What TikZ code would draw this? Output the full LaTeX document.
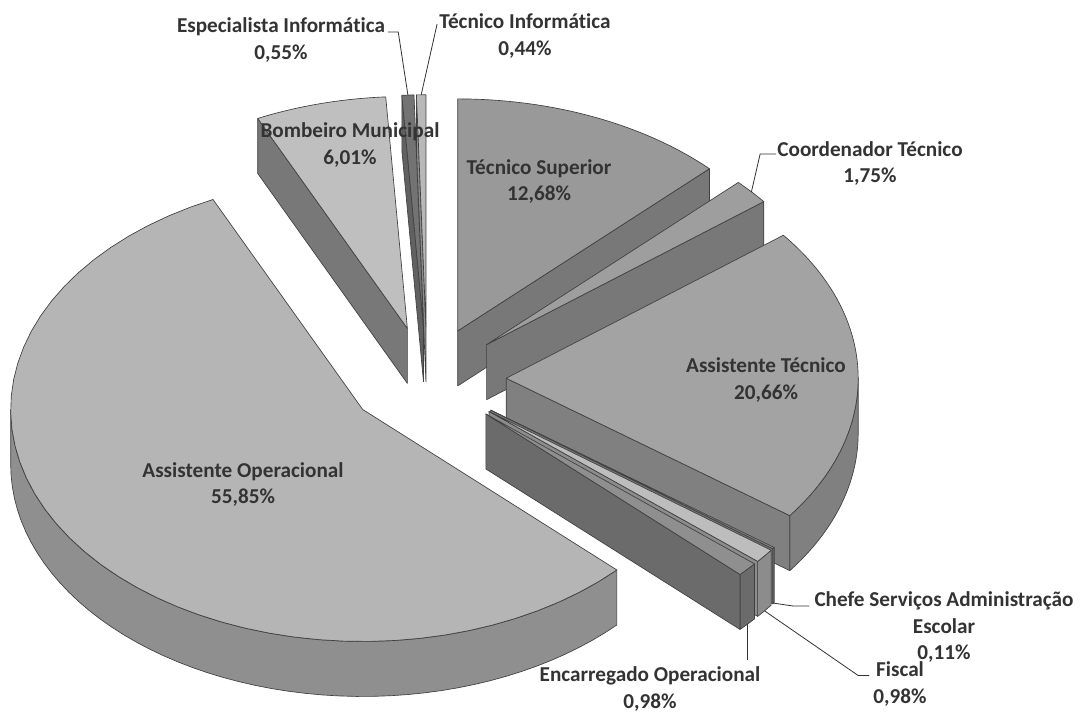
\documentclass[tikz,border=0pt]{standalone}
\usepackage{fontspec}
\setmainfont{Carlito}[Ligatures=NoCommon]
\usetikzlibrary{calc}

% tons de cinza: t = topo, l = lado
\definecolor{cTSt}{gray}{0.60}\definecolor{cTSl}{gray}{0.47}
\definecolor{cTIt}{gray}{0.72}\definecolor{cTIl}{gray}{0.55}
\definecolor{cEIt}{gray}{0.45}\definecolor{cEIl}{gray}{0.38}
\definecolor{cBMt}{gray}{0.75}\definecolor{cBMl}{gray}{0.47}
\definecolor{cCTt}{gray}{0.62}\definecolor{cCTl}{gray}{0.47}
\definecolor{cATt}{gray}{0.64}\definecolor{cATl}{gray}{0.50}
\definecolor{cCSt}{gray}{0.55}\definecolor{cCSl}{gray}{0.45}
\definecolor{cFIt}{gray}{0.74}\definecolor{cFIl}{gray}{0.55}
\definecolor{cEOt}{gray}{0.56}\definecolor{cEOl}{gray}{0.42}
\definecolor{cAOt}{gray}{0.71}\definecolor{cAOl}{gray}{0.56}

\tikzset{
face/.style={draw=black!75,line width=0.5pt,line join=round},
rotulo/.style={font=\fontsize{15.9}{20}\selectfont\bfseries,text=black!80,align=center,inner sep=0pt},
guia/.style={draw=black!80,line width=0.6pt}
}

% fatia: #1 inicio, #2 fim (graus a partir do topo, sentido horario), #3 cor topo, #4 cor lado, #5 nome
\newcommand{\fatia}[5]{
\pgfmathsetmacro\meio{(#1+#2)/2}
\pgfmathsetmacro\ax{\cx+\expl*\rx*sin(\meio)}
\pgfmathsetmacro\ay{\cy+\expl*\ry*cos(\meio)}
\coordinate (#5) at (\ax,\ay);
\coordinate (#5-top) at ({\ax+\rx*sin(\meio)},{\ay+\ry*cos(\meio)});
\coordinate (#5-bot) at ({\ax+\rx*sin(\meio)},{\ay+\ry*cos(\meio)-\prof});
% borda exterior
\pgfmathsetmacro\ra{max(#1,90)}
\pgfmathsetmacro\rb{min(#2,270)}
\ifdim\ra pt<\rb pt
\filldraw[face,fill=#4] plot[domain=\ra:\rb,samples=50] ({\ax+\rx*sin(\x)},{\ay+\ry*cos(\x)})
  -- plot[domain=\rb:\ra,samples=50] ({\ax+\rx*sin(\x)},{\ay+\ry*cos(\x)-\prof}) -- cycle;
\fi
% faces de corte
\pgfmathsetmacro\sinA{sin(#1)}
\pgfmathsetmacro\sinB{sin(#2)}
\ifdim\sinA pt<0pt
\filldraw[face,fill=#4] (\ax,\ay) -- ++({\rx*sin(#1)},{\ry*cos(#1)}) -- ++(0,-\prof) -- (\ax,{\ay-\prof}) -- cycle;
\fi
\ifdim\sinB pt>0pt
\filldraw[face,fill=#4] (\ax,\ay) -- ++({\rx*sin(#2)},{\ry*cos(#2)}) -- ++(0,-\prof) -- (\ax,{\ay-\prof}) -- cycle;
\fi
% topo
\filldraw[face,fill=#3] (\ax,\ay) -- plot[domain=#1:#2,samples=50] ({\ax+\rx*sin(\x)},{\ay+\ry*cos(\x)}) -- cycle;
}

\begin{document}
\begin{tikzpicture}[x=0.75pt,y=0.75pt]
\useasboundingbox (0,0) rectangle (1081,-715);
\fill[white] (0,0) rectangle (1081,-715);

% pizza
\def\cx{427}\def\cy{-379}\def\rx{352}\def\ry{232}\def\prof{55}\def\expl{0.225}

% fatias, de tras para a frente
\fatia{0}{45.648}{cTSt}{cTSl}{TS}
\fatia{358.452}{360}{cTIt}{cTIl}{TI}
\fatia{356.472}{358.452}{cEIt}{cEIl}{EI}
\fatia{334.836}{356.472}{cBMt}{cBMl}{BM}
\fatia{45.648}{51.948}{cCTt}{cCTl}{CT}
\fatia{51.948}{126.324}{cATt}{cATl}{AT}
\fatia{126.324}{126.72}{cCSt}{cCSl}{CS}
\fatia{126.72}{130.248}{cFIt}{cFIl}{FI}
\fatia{130.248}{133.776}{cEOt}{cEOl}{EO}
\fatia{133.776}{334.836}{cAOt}{cAOl}{AO}

% rotulos
\node[rotulo] (lblEI) at (281,-40) {Especialista Informática\\0,55\%};
\node[rotulo] (lblTI) at (525,-36) {Técnico Informática\\0,44\%};
\node[rotulo] (lblBM) at (350,-145) {Bombeiro Municipal\\6,01\%};
\node[rotulo] (lblTS) at (539,-181.5) {Técnico Superior\\12,68\%};
\node[rotulo] (lblCT) at (870,-163.5) {Coordenador Técnico\\1,75\%};
\node[rotulo] (lblAT) at (766,-380) {Assistente Técnico\\20,66\%};
\node[rotulo] (lblAO) at (243,-484.5) {Assistente Operacional\\55,85\%};
\node[rotulo] (lblCS) at (944,-627) {Chefe Serviços Administração\\Escolar\\0,11\%};
\node[rotulo] (lblFI) at (900,-684) {Fiscal\\0,98\%};
\node[rotulo] (lblEO) at (650,-689) {Encarregado Operacional\\0,98\%};

% linhas de chamada
\draw[guia] (lblEI.east) ++(3,8) -- ++(10,0) -- (EI-top);
\draw[guia] (lblTI.west) ++(-2,12) -- (TI-top);
\draw[guia] (lblCT.west) ++(-1,9.5) -- ++(-16,0) -- (CT-top);
\draw[guia] (lblCS.west) ++(-5,21) -- ++(-16,0) -- (CS-bot);
\draw[guia] (lblFI.west) ++(-4,8.5) -- ++(-11,0) -- (FI-bot);
\draw[guia] (EO-bot) -- ++(0,-36);

\end{tikzpicture}
\end{document}
